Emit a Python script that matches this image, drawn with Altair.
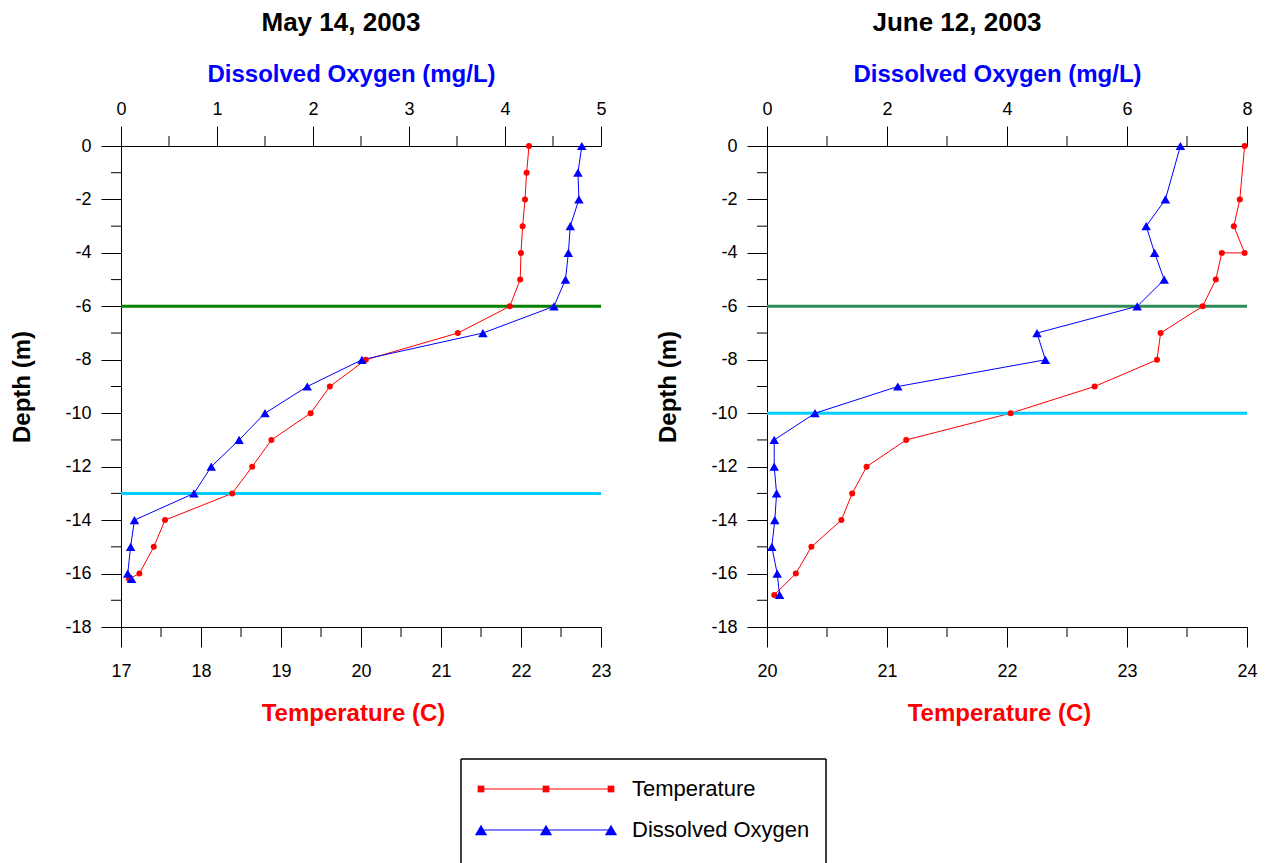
import altair as alt
import pandas as pd

FONT = "Liberation Sans"

# ---------------- data ----------------
may_temp_depth = [0, -1, -2, -3, -4, -5, -6, -7, -8, -9, -10, -11, -12, -13, -14, -15, -16, -16.2]
may_temp = [22.10, 22.07, 22.05, 22.02, 22.00, 21.99, 21.86, 21.21, 20.06, 19.61, 19.37,
            18.88, 18.64, 18.39, 17.55, 17.41, 17.23, 17.10]
may_do_depth = [0, -1, -2, -3, -4, -5, -6, -7, -8, -9, -10, -11, -12, -13, -14, -15, -16, -16.2]
may_do = [4.80, 4.76, 4.77, 4.68, 4.66, 4.63, 4.51, 3.77, 2.51, 1.94, 1.50,
          1.23, 0.94, 0.76, 0.14, 0.10, 0.07, 0.11]
may_lines = [-6, -13]
may_line_colors = ["#008000", "#00ccff"]

june_temp_depth = [0, -2, -3, -4, -4, -5, -6, -7, -8, -9, -10, -11, -12, -13, -14, -15, -16, -16.8]
june_temp = [23.98, 23.94, 23.89, 23.98, 23.79, 23.74, 23.63, 23.28, 23.25, 22.73, 22.03,
             21.16, 20.83, 20.71, 20.62, 20.37, 20.24, 20.06]
june_do_depth = [0, -2, -3, -4, -5, -6, -7, -8, -9, -10, -11, -12, -13, -14, -15, -16, -16.8]
june_do = [6.89, 6.64, 6.32, 6.46, 6.62, 6.17, 4.50, 4.64, 2.18, 0.80, 0.12, 0.12, 0.16,
           0.13, 0.08, 0.17, 0.21]
june_lines = [-6, -10]
june_line_colors = ["#2e8b57", "#00ccff"]

depth_major = [-18, -16, -14, -12, -10, -8, -6, -4, -2, 0]
depth_minor = [-17, -15, -13, -11, -9, -7, -5, -3, -1]

may_do_major = [0, 1, 2, 3, 4, 5]
may_do_minor = [0.5, 1.5, 2.5, 3.5, 4.5]
may_temp_major = [17, 18, 19, 20, 21, 22, 23]
may_temp_minor = [17.5, 18.5, 19.5, 20.5, 21.5, 22.5]

june_do_major = [0, 2, 4, 6, 8]
june_do_minor = [1, 3, 5, 7]
june_temp_major = [20, 21, 22, 23, 24]
june_temp_minor = [20.5, 21.5, 22.5, 23.5]

legend_names = ["Temperature", "Dissolved Oxygen"]
legend_colors = ["#ff0000", "#0000ff"]
legend_shapes = ["square", "triangle-up"]
legend_sizes = [45, 150]
legend_sample_pos = [0, 0.5, 1]

W, H = 480, 481
TICK = 20
MINOR = 10


def panel(title, title_dx, t_depth, t_val, d_depth, d_val, t_dom, d_dom,
          t_major, t_minor, d_major, d_minor, lines, line_colors):
    tdf = pd.DataFrame({"depth": t_depth, "val": t_val, "i": list(range(len(t_val)))})
    ddf = pd.DataFrame({"depth": d_depth, "val": d_val, "i": list(range(len(d_val)))})
    ldf = pd.DataFrame({"depth": lines, "c": line_colors})

    yscale = alt.Scale(domain=[-18, 0], nice=False, zero=False)
    yaxis = alt.Axis(orient="left", values=depth_major, title="Depth (m)", tickSize=TICK,
                     labelPadding=10, titlePadding=30,
                     labelExpr="datum.value == 0 ? '0' : '-' + abs(datum.value)")
    # the same y encoding (same axis) in every layer, so the shared axis merges cleanly
    y = alt.Y("depth:Q", scale=yscale, axis=yaxis)

    tscale = alt.Scale(domain=t_dom, nice=False, zero=False)
    dscale = alt.Scale(domain=d_dom, nice=False, zero=False)

    t_axis = alt.Axis(orient="bottom", values=t_major, title="Temperature (C)",
                      titleColor="#ff0000", tickSize=TICK, labelPadding=15,
                      titlePadding=21, titleX=W / 2 - 8, format="d")
    d_axis = alt.Axis(orient="top", values=d_major, title="Dissolved Oxygen (mg/L)",
                      titleColor="#0000ff", tickSize=TICK, labelPadding=8,
                      titlePadding=14, titleX=W / 2 - 10, format="d")

    rules = alt.Chart(ldf).mark_rule(strokeWidth=3).encode(
        y=y, x=alt.value(0), x2=alt.value(W),
        color=alt.Color("c:N", scale=None, legend=None))

    y_minor = alt.Chart(pd.DataFrame({"depth": depth_minor})).mark_rule(
        color="black", strokeWidth=1).encode(
        y=y, x=alt.value(-MINOR), x2=alt.value(0))

    t_minor_r = alt.Chart(pd.DataFrame({"v": t_minor})).mark_rule(
        color="black", strokeWidth=1).encode(
        x=alt.X("v:Q", scale=tscale, axis=None), y=alt.value(H), y2=alt.value(H + MINOR))

    d_minor_r = alt.Chart(pd.DataFrame({"v": d_minor})).mark_rule(
        color="black", strokeWidth=1).encode(
        x=alt.X("v:Q", scale=dscale, axis=None), y=alt.value(-MINOR), y2=alt.value(0))

    t_line = alt.Chart(tdf).mark_line(color="#ff0000", strokeWidth=1).encode(
        x=alt.X("val:Q", scale=tscale, axis=t_axis), y=y, order="i:Q")
    t_pts = alt.Chart(tdf).mark_point(filled=True, shape="circle", size=36,
                                      color="#ff0000", opacity=1).encode(
        x=alt.X("val:Q", scale=tscale, axis=None), y=y)

    d_line = alt.Chart(ddf).mark_line(color="#0000ff", strokeWidth=1).encode(
        x=alt.X("val:Q", scale=dscale, axis=d_axis), y=y, order="i:Q")
    d_pts = alt.Chart(ddf).mark_point(filled=True, shape="triangle-up", size=90,
                                      color="#0000ff", opacity=1).encode(
        x=alt.X("val:Q", scale=dscale, axis=None), y=y)

    return alt.layer(
        t_line, rules, y_minor, t_minor_r, d_minor_r, d_line, t_pts, d_pts
    ).resolve_scale(x="independent").properties(
        width=W, height=H,
        title=alt.TitleParams(title, fontSize=26, font=FONT, fontWeight="bold",
                              color="black", anchor="middle", frame="group",
                              offset=26, dx=title_dx),
    )


left = panel("May 14, 2003", -20, may_temp_depth, may_temp, may_do_depth, may_do,
             [17, 23], [0, 5], may_temp_major, may_temp_minor, may_do_major, may_do_minor,
             may_lines, may_line_colors)
right = panel("June 12, 2003", -50, june_temp_depth, june_temp, june_do_depth, june_do,
              [20, 24], [0, 8], june_temp_major, june_temp_minor, june_do_major, june_do_minor,
              june_lines, june_line_colors)

# ---------------- legend ----------------
LW, LH = 365, 104
leg_rows = pd.DataFrame({"name": legend_names})
leg_pts = pd.DataFrame([{"name": n, "pos": p} for n in legend_names for p in legend_sample_pos])
leg_seg = pd.DataFrame({"name": legend_names, "a": [0] * 2, "b": [1] * 2})

ly = alt.Y("name:N", scale=alt.Scale(type="point", domain=legend_names, range=[30, 71],
                                     padding=0), axis=None)
lx = alt.Scale(domain=[0, 1], range=[20, 150])
lcolor = alt.Color("name:N", scale=alt.Scale(domain=legend_names, range=legend_colors), legend=None)

leg_lines = alt.Chart(leg_seg).mark_rule(strokeWidth=1).encode(
    x=alt.X("a:Q", scale=lx, axis=None), x2="b:Q", y=ly, color=lcolor)
leg_marks = alt.Chart(leg_pts).mark_point(filled=True, opacity=1).encode(
    x=alt.X("pos:Q", scale=lx, axis=None), y=ly, color=lcolor,
    shape=alt.Shape("name:N", scale=alt.Scale(domain=legend_names, range=legend_shapes), legend=None),
    size=alt.Size("name:N", scale=alt.Scale(domain=legend_names, range=legend_sizes), legend=None))
leg_text = alt.Chart(leg_rows).mark_text(align="left", baseline="middle", font=FONT,
                                         fontSize=22, color="black").encode(
    x=alt.value(171), y=ly, text="name:N")
box_top = alt.Chart(leg_rows).mark_rule(color="black", strokeWidth=1).encode(
    x=alt.value(0), x2=alt.value(LW), y=alt.value(0))
box_left = alt.Chart(leg_rows).mark_rule(color="black", strokeWidth=1).encode(
    x=alt.value(0), y=alt.value(0), y2=alt.value(LH))
box_right = alt.Chart(leg_rows).mark_rule(color="black", strokeWidth=1).encode(
    x=alt.value(LW), y=alt.value(0), y2=alt.value(LH))

legend = alt.layer(box_top, box_left, box_right, leg_lines, leg_marks, leg_text).resolve_scale(
    x="independent").properties(width=LW, height=LH)

spacer = alt.Chart(pd.DataFrame({"a": [0]})).mark_point(opacity=0).encode(
    x=alt.value(0), y=alt.value(0)).properties(width=339, height=LH)

chart = alt.vconcat(
    alt.hconcat(left, right, spacing=44),
    alt.hconcat(spacer, legend, spacing=0),
    spacing=31,
).properties(
    padding={"left": 10, "top": 10, "right": 0, "bottom": 0},
    background="white",
).configure_view(stroke=None).configure_axis(
    labelFont=FONT, labelFontSize=18, labelColor="black", labelFlush=False,
    titleFont=FONT, titleFontSize=24, titleFontWeight="bold", titleColor="black",
    domainColor="black", tickColor="black", domainWidth=1, tickWidth=1, grid=False,
).configure_title(font=FONT)

chart.save("out.html", embed_options={"renderer": "svg", "actions": False})
